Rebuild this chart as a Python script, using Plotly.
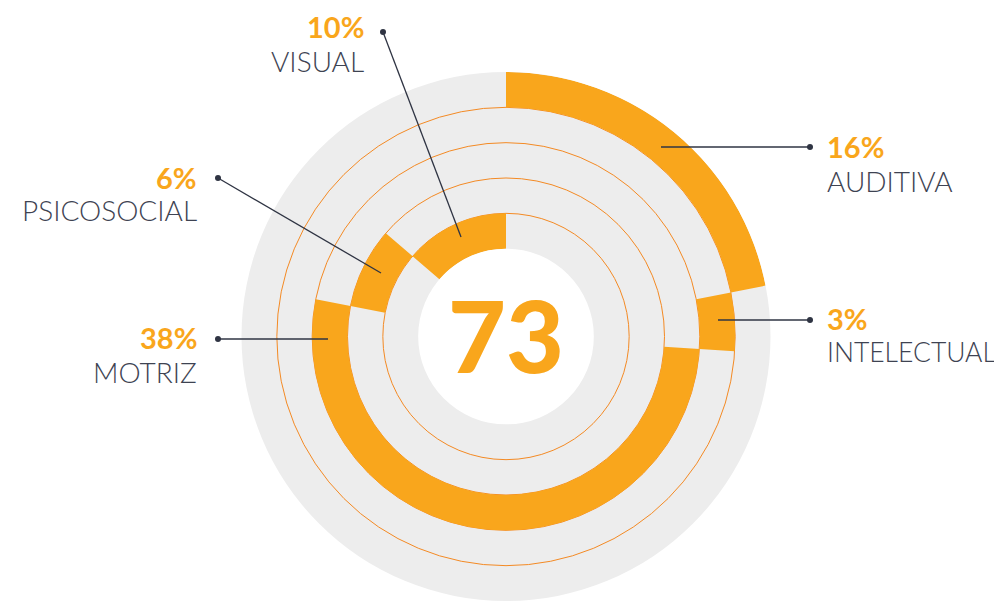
import plotly.graph_objects as go

# ---- data ----
categories = ["AUDITIVA", "INTELECTUAL", "MOTRIZ", "PSICOSOCIAL", "VISUAL"]
values = [16, 3, 38, 6, 10]
ring_base = [4, 3, 2, 1, 0]          # ring index (0 = innermost)
total = sum(values)                   # 73

ORANGE = "#F9A61C"
LINE_ORANGE = "#F48A24"
GREY = "#EDEDED"
TEXT = "#3E4352"
OFF = 8  # page body margin
W, H = 1002 - OFF, 601 - OFF

# cumulative angular layout (full circle = total)
widths, centers = [], []
start = 0.0
for v in values:
    w = v / total * 360.0
    widths.append(w)
    centers.append(start + w / 2)
    start += w

fig = go.Figure()
fig.add_trace(go.Barpolar(
    r=[1] * len(values), base=ring_base, theta=centers, width=widths,
    marker=dict(color=ORANGE, line=dict(width=0)),
    hoverinfo="skip", showlegend=False,
))

def px(x, y):
    return (x - OFF) / W, 1 - (y - OFF) / H

cx, cy, R = 506, 337, 265
dx0, _ = px(cx - R, 0)
dx1, _ = px(cx + R, 0)
_, dy1 = px(0, cy - R)
_, dy0 = px(0, cy + R)
fig.update_layout(
    width=W, height=H,
    margin=dict(l=0, r=0, t=0, b=0),
    paper_bgcolor="white",
    polar=dict(
        domain=dict(x=[dx0, dx1], y=[max(dy0, 0), dy1]),
        bgcolor=GREY,
        hole=88 / 265,
        radialaxis=dict(range=[0, 5], tickvals=[1, 2, 3, 4], showticklabels=False,
                        ticks="", showline=False, gridcolor=LINE_ORANGE, gridwidth=1),
        angularaxis=dict(direction="clockwise", rotation=90, showgrid=False,
                         showticklabels=False, ticks="", showline=False),
        barmode="overlay",
    ),
    font=dict(family="Lato"),
)

# label layout: (percent text, name, dot position, inner end, text anchor side, pct y, name y, text x, name size)
labels = [
    ("10%", "VISUAL", (383, 32), (461, 237), "right", 27, 61, 366, 28),
    ("6%", "PSICOSOCIAL", (218, 178), (381, 273), "right", 177, 210, 199, 28),
    ("38%", "MOTRIZ", (218, 339), (328, 339), "right", 337, 372, 199, 28),
    ("16%", "AUDITIVA", (810, 147), (661, 147), "left", 146, 181, 825, 28),
    ("3%", "INTELECTUAL", (810, 320), (718, 320), "left", 318, 352, 825, 26.5),
]
shapes, annots = [], []
for pct, name, dot, end, side, ypct, yname, tx, nsize in labels:
    x0, y0 = px(*dot)
    x1, y1 = px(*end)
    shapes.append(dict(type="line", xref="paper", yref="paper", x0=x0, y0=y0, x1=x1, y1=y1,
                       line=dict(color="#2F3443", width=1.3)))
    shapes.append(dict(type="circle", xref="paper", yref="paper", xsizemode="pixel", ysizemode="pixel",
                       xanchor=x0, yanchor=y0, x0=-3, x1=3, y0=-3, y1=3,
                       fillcolor="#2F3443", line=dict(width=0)))
    ax, ay = px(tx, ypct)
    annots.append(dict(text=pct, x=ax, y=ay, xref="paper", yref="paper", showarrow=False,
                       xanchor=side, yanchor="middle",
                       font=dict(family="Lato", size=29, color=ORANGE, weight=700)))
    ax, ay = px(tx, yname)
    annots.append(dict(text=name, x=ax, y=ay, xref="paper", yref="paper", showarrow=False,
                       xanchor=side, yanchor="middle",
                       font=dict(family="Lato", size=nsize, color=TEXT, weight=300)))

cxp, cyp = px(cx, cy - 3)
annots.append(dict(text=str(total), x=cxp, y=cyp, xref="paper", yref="paper", showarrow=False,
                   xanchor="center", yanchor="middle",
                   font=dict(family="Lato", size=100, color=ORANGE, weight=900)))

fig.update_layout(shapes=shapes, annotations=annots)
fig.write_html("out.html")
